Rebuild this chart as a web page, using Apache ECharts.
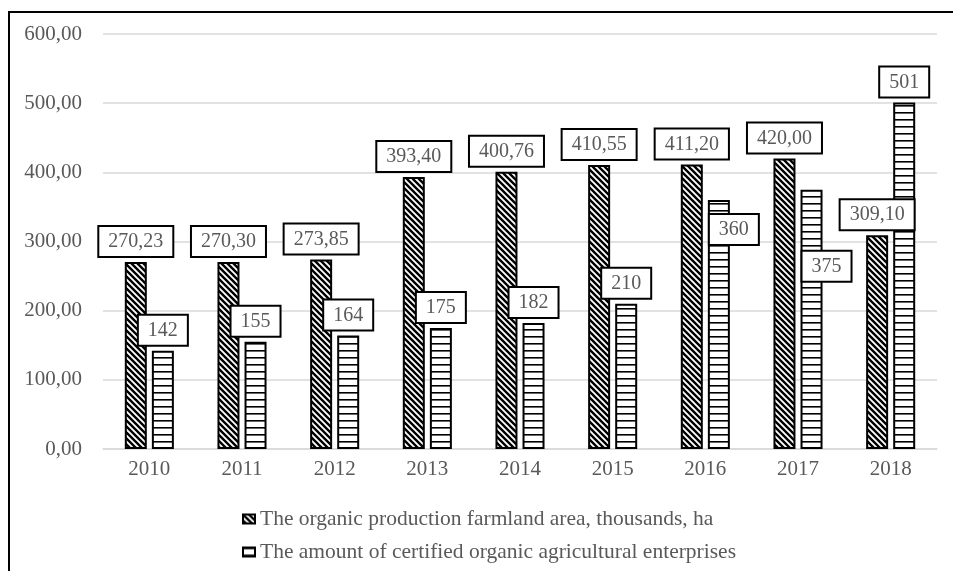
<!DOCTYPE html>
<html>
<head>
<meta charset="utf-8">
<script src="https://cdn.jsdelivr.net/npm/echarts@6/dist/echarts.min.js"></script>
<style>
	html, body { margin: 0; padding: 0; background: #fff; }
	#main { width: 953px; height: 571px; }
</style>
</head>
<body>
<div id="main"></div>
<script>
const years = ['2010', '2011', '2012', '2013', '2014', '2015', '2016', '2017', '2018'];
const farmlandArea = [270.23, 270.30, 273.85, 393.40, 400.76, 410.55, 411.20, 420.00, 309.10];
const enterprises = [142, 155, 164, 175, 182, 210, 360, 375, 501];
const yTicks = [0, 100, 200, 300, 400, 500, 600];

const farmlandName = 'The organic production farmland area, thousands, ha';
const enterprisesName = 'The amount of certified organic agricultural enterprises';

const textGray = '#595959';
const serif = '"Liberation Serif", "DejaVu Serif", serif';

// diagonal hatch pattern
function diagPattern(){
	let c = document.createElement('canvas');
	c.width = 6; c.height = 6;
	let ctx = c.getContext('2d');
	ctx.fillStyle = '#fff';
	ctx.fillRect(0, 0, 6, 6);
	ctx.strokeStyle = '#000';
	ctx.lineWidth = 2.4;
	ctx.beginPath();
	ctx.moveTo(-1, -1); ctx.lineTo(7, 7);
	ctx.moveTo(-4, 2); ctx.lineTo(2, 8);
	ctx.moveTo(2, -4); ctx.lineTo(8, 2);
	ctx.stroke();
	return c;
}
// horizontal stripe pattern
function horizPattern(){
	let c = document.createElement('canvas');
	c.width = 4; c.height = 7;
	let ctx = c.getContext('2d');
	ctx.fillStyle = '#fff';
	ctx.fillRect(0, 0, 4, 7);
	ctx.fillStyle = '#000';
	ctx.fillRect(0, 0, 4, 1.6);
	return c;
}

// labels Excel moved to avoid overlapping
const enterpriseOffsets = {6: [15, 50], 7: [15, 97]};

const labelBox = {
	show: true,
	position: 'top',
	distance: 6,
	color: textGray,
	fontFamily: serif,
	fontSize: 20,
	lineHeight: 20,
	backgroundColor: '#fff',
	borderColor: '#000',
	borderWidth: 2,
	padding: [5, 9, 4, 9]
};

let myChart = echarts.init(document.getElementById('main'));
let option = {
	animation: false,
	grid: {left: 103, right: 16, top: 34, bottom: 122},
	legend: {
		orient: 'vertical',
		left: 242,
		top: 508,
		padding: 0,
		icon: 'rect',
		itemWidth: 12,
		itemHeight: 9,
		itemGap: 11,
		textStyle: {color: textGray, fontFamily: serif, fontSize: 21.5},
		data: [farmlandName, enterprisesName]
	},
	xAxis: {
		type: 'category',
		data: years,
		axisLine: {lineStyle: {color: '#d9d9d9', width: 1.5}},
		axisTick: {show: false},
		axisLabel: {color: textGray, fontFamily: serif, fontSize: 21, margin: 10}
	},
	yAxis: {
		type: 'value',
		min: yTicks[0],
		max: yTicks[yTicks.length - 1],
		interval: yTicks[1] - yTicks[0],
		axisLine: {show: false},
		axisTick: {show: false},
		splitLine: {lineStyle: {color: '#d9d9d9', width: 1.5}},
		axisLabel: {
			color: textGray, fontFamily: serif, fontSize: 21, margin: 21,
			formatter: function(v){ return v.toFixed(2).replace('.', ','); }
		}
	},
	series: [
		{
			name: farmlandName,
			type: 'bar',
			barWidth: 22,
			barGap: '23%',
			data: farmlandArea,
			itemStyle: {
				color: {image: diagPattern(), repeat: 'repeat'},
				borderColor: '#000',
				borderWidth: 2
			},
			label: Object.assign({}, labelBox, {
				formatter: function(p){ return p.value.toFixed(2).replace('.', ','); }
			})
		},
		{
			name: enterprisesName,
			type: 'bar',
			barWidth: 22,
			data: enterprises.map(function(v, i){
				return enterpriseOffsets[i] ? {value: v, label: {offset: enterpriseOffsets[i]}} : v;
			}),
			itemStyle: {
				color: {image: horizPattern(), repeat: 'repeat'},
				borderColor: '#000',
				borderWidth: 2
			},
			label: Object.assign({}, labelBox, {formatter: '{c}'})
		}
	],
	graphic: [{
		type: 'polyline',
		silent: true,
		shape: {points: [[9, 571], [9, 12], [953, 12]]},
		style: {stroke: '#000', lineWidth: 2, fill: null}
	}]
};
myChart.setOption(option);
</script>
</body>
</html>
